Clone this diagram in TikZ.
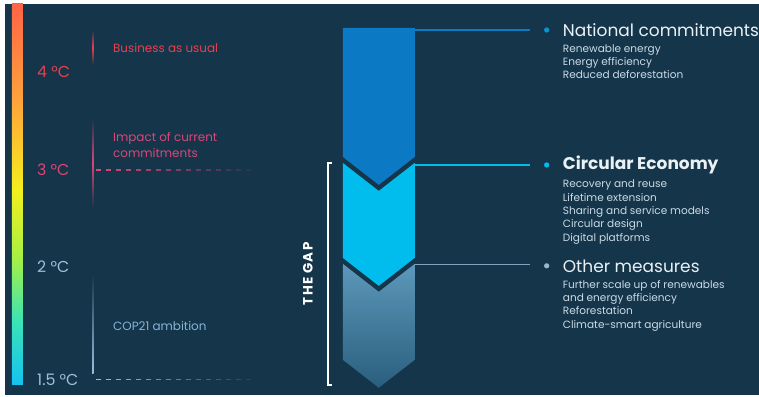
\documentclass[tikz,border=0pt]{standalone}
\usepackage{fontspec}
\setmainfont{Poppins}
\usetikzlibrary{positioning}

\definecolor{bgnavy}{HTML}{15354A}
\definecolor{natblue}{HTML}{0B79C4}
\definecolor{circyan}{HTML}{00BDEE}
\definecolor{othtop}{HTML}{5C98BA}
\definecolor{othbot}{HTML}{2A5E7E}
\definecolor{othline}{HTML}{7FA6BE}
\definecolor{hotred}{HTML}{E8404F}
\definecolor{warmpink}{HTML}{DC4678}
\definecolor{coolblue}{HTML}{9CBFDC}
\definecolor{headwhite}{HTML}{EAF1F5}
\definecolor{itemgray}{HTML}{CADBE6}
\definecolor{barcyan}{HTML}{14C2F2}
\definecolor{barmint}{HTML}{3CE4B4}
\definecolor{barlime}{HTML}{A4F046}
\definecolor{baryellow}{HTML}{F4F01E}
\definecolor{barorange}{HTML}{FFA23C}
\definecolor{barred}{HTML}{FF6446}

% path is fitted into the middle 50bp of the shading
\pgfdeclareverticalshading{tempbar}{100bp}{
  color(0bp)=(barcyan);
  color(25bp)=(barcyan);
  color(33.5bp)=(barmint);
  color(41.5bp)=(barlime);
  color(50.5bp)=(baryellow);
  color(62.5bp)=(barorange);
  color(75bp)=(barred);
  color(100bp)=(barred)}

\begin{document}
\begin{tikzpicture}[x=0.03cm,y=-0.03cm,
    degree/.style={anchor=west, inner sep=0pt, font=\fontsize{13.5}{16}\selectfont},
    scenario/.style={anchor=west, inner sep=0pt, align=left, font=\fontsize{10.2}{13.6}\selectfont},
    heading/.style={anchor=west, inner sep=0pt, text=headwhite, font=\fontsize{14.5}{17}\selectfont},
    itemlist/.style={anchor=north west, inner sep=0pt, align=left, text=itemgray, font=\fontsize{9}{11.4}\selectfont},
    bullet/.style={circle, fill, inner sep=0pt, minimum size=4.5pt},
    conn/.style={line width=1.6pt}]

   % canvas
   \fill[white] (0,0) rectangle (759,397);
   \fill[bgnavy] (5,4) rectangle (759,395);
   \shade[shading=tempbar] (12,4) rectangle (23,385);

   % temperature levels
   \node[degree,text=hotred] (t4) at (37,72) {4 °C};
   \node[degree,text=warmpink!85!hotred] (t3) at (37,170) {3 °C};
   \node[degree,text=coolblue] (t2) at (37,267) {2 °C};
   \node[degree,text=coolblue] (t15) at (37,380) {1.5 °C};

   % scenario marks
   \shade[top color=bgnavy, bottom color=bgnavy, middle color=hotred] (92.3,30) rectangle (93.7,65);
   \shade[top color=bgnavy, bottom color=bgnavy, middle color=warmpink] (92.3,118) rectangle (93.7,208);
   \shade[top color=bgnavy, bottom color=coolblue] (92.3,274) rectangle (93.7,374);
   \foreach \k in {0,...,15} {
     \draw[warmpink, line width=1.1pt, opacity=1-\k/17] (96+\k*10,170) -- ++(5,0);
     \draw[coolblue, line width=1.1pt, opacity=1-\k/17] (96+\k*10,380) -- ++(5,0);
   }

   \node[scenario,text=hotred] (bau) at (113,48) {Business as usual};
   \node[scenario,text=warmpink] (impact) at (113,145) {Impact of current\\commitments};
   \node[scenario,text=coolblue!85!natblue] (cop) at (113,326) {COP21 ambition};

   % the chevron column
   \fill[natblue] (343,28) -- (415,28) -- (415,157) -- (379,185) -- (343,157) -- cycle;
   \fill[circyan] (343,163) -- (379,191) -- (415,163) -- (415,258) -- (379,286) -- (343,258) -- cycle;
   \shade[top color=othtop, bottom color=othbot] (343,264) -- (379,292) -- (415,264) -- (415,360) -- (379,388) -- (343,360) -- cycle;

   % the gap bracket
   \draw[white, line width=1.4pt] (332,163) -- (328,163) -- (328,385) -- (332,385);
   \node[rotate=90, text=white, font=\bfseries\fontsize{11.5}{13}\selectfont\addfontfeatures{LetterSpace=9}] (gap) at (308,274) {THE GAP};

   % measures
   \coordinate (col1) at (415,30);
   \coordinate (end1) at (530,30);
   \coordinate (col2) at (415,165);
   \coordinate (end2) at (530,165);
   \coordinate (col3) at (415,265);
   \coordinate (end3) at (530,265);

   \node[bullet,natblue!80!cyan] (dot1) at (547,30) {};
   \node[bullet,circyan] (dot2) at (547,165) {};
   \node[bullet,othline!80!white] (dot3) at (547,266) {};

   \node[heading] (nat) at (563,30) {National commitments};
   \node[heading,font=\bfseries\fontsize{14.5}{17}\selectfont] (circ) at (563,165) {Circular Economy};
   \node[heading] (other) at (563,266) {Other measures};

   \node[itemlist] (natlist) at (563,44) {Renewable energy\\Energy efficiency\\Reduced deforestation};
   \node[itemlist] (circlist) at (563,180) {Recovery and reuse\\Lifetime extension\\Sharing and service models\\Circular design\\Digital platforms};
   \node[itemlist] (otherlist) at (563,280) {Further scale up of renewables\\and energy efficiency\\Reforestation\\Climate-smart agriculture};

   \draw[conn,natblue] (col1) -- (end1);
   \draw[conn,circyan] (col2) -- (end2);
   \draw[othline, line width=1.1pt] (col3) -- (end3);

   \useasboundingbox (0,0) rectangle (759,397);
 \end{tikzpicture}
\end{document}
